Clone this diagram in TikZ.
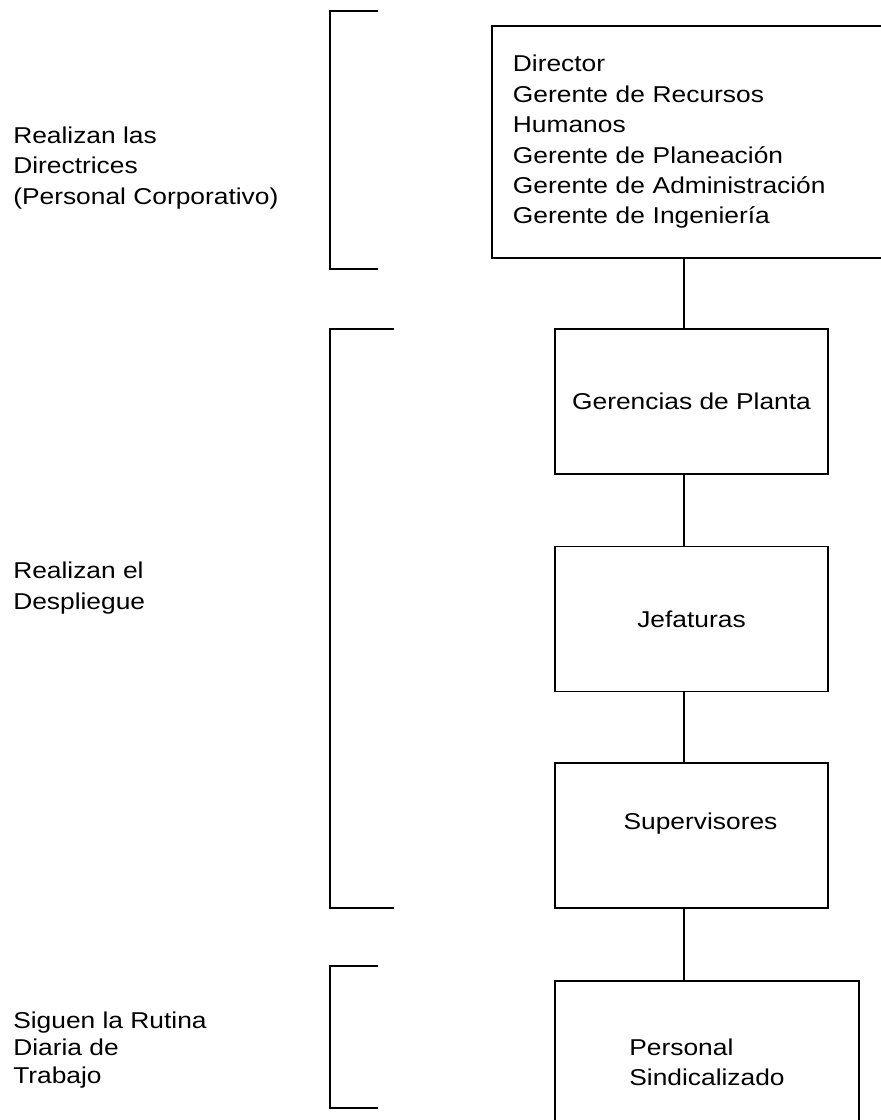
\documentclass[tikz,border=0pt]{standalone}
\usepackage{fontspec}
\setmainfont{Liberation Sans}[FakeStretch=1.15]
\usepackage{tikz}
\usetikzlibrary{positioning, calc}
\tikzset{
  level/.style={draw, rectangle, line width=1.3pt, minimum width=6.825cm, minimum height=3.625cm, inner sep=0pt, align=center},
  tag/.style={anchor=west, inner sep=0pt, align=left},
  link/.style={line width=1.3pt}
}
\newcommand{\bracket}[4]{%
  \draw[link] (#4,#2) -- (#1,#2) -- (#1,#3) -- (#4,#3);
}

\begin{document}
\begin{tikzpicture}[font={\fontsize{16.3pt}{21.6pt}\selectfont}]
        \useasboundingbox (0,0) rectangle (22.025,-28);

        % Levels
        \node[level, anchor=north west, minimum width=10cm, minimum height=5.8cm, text width=8.95cm, align=left] (corp) at (12.275,-0.625)
          {Director\\Gerente de Recursos\\Humanos\\Gerente de Planeación\\Gerente de Administración\\Gerente de Ingeniería};
        \node[level] (planta) at (17.2875,-10.0375) {Gerencias de Planta};
        \node[level] (jefes)  at (17.2875,-15.475) {Jefaturas};
        \node[level, text depth=0.715cm] (super) at (17.2875,-20.8875) {\hspace*{0.45cm}Supervisores};
        \node[level, minimum width=7.6cm, minimum height=4.075cm, align=left] (sindic) at (17.675,-26.5625) {Personal\\Sindicalizado};

        % Links
        \coordinate (spine) at (17.1,0);
        \draw[link] (corp.south -| spine)   -- (planta.north -| spine);
        \draw[link] (planta.south -| spine) -- (jefes.north -| spine);
        \draw[link] (jefes.south -| spine)  -- (super.north -| spine);
        \draw[link] (super.south -| spine)  -- (sindic.north -| spine);

        % Brackets
        \bracket{8.25}{-0.275}{-6.725}{9.45}
        \bracket{8.25}{-8.225}{-22.7}{9.85}
        \bracket{8.25}{-24.15}{-27.7}{9.45}

        % Tags
        \node[tag] (directrices) at (0.325,-4.2) {Realizan las\\Directrices\\(Personal Corporativo)};
        \node[tag] (despliegue)  at (0.325,-14.7) {Realizan el\\Despliegue};
        \node[tag, font={\fontsize{16.3pt}{19.6pt}\selectfont}] (rutina) at (0.325,-26.245) {Siguen la Rutina\\Diaria de\\Trabajo};
    \end{tikzpicture}
\end{document}
